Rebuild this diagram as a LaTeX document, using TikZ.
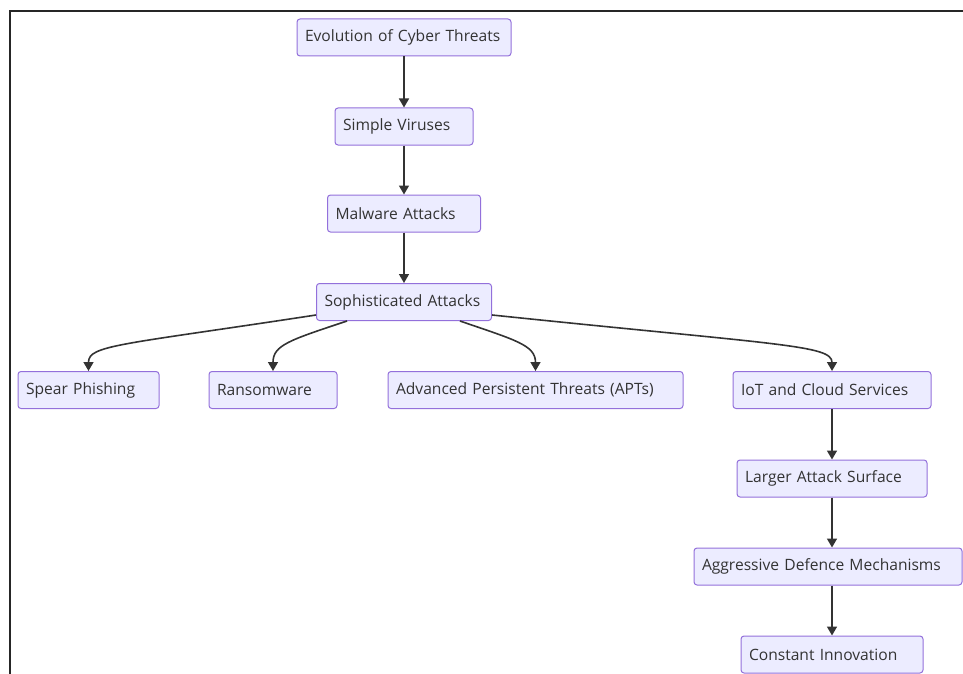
\documentclass[tikz,border=0pt]{standalone}
\usepackage{fontspec}
\setmainfont{Open Sans}
\usetikzlibrary{arrows.meta}
\definecolor{boxfill}{HTML}{ECECFF}
\definecolor{boxline}{HTML}{9370DB}
\definecolor{ink}{HTML}{333333}
\tikzset{
  box/.style={draw=boxline, fill=boxfill, line width=1pt, rounded corners=3pt,
    minimum height=37pt, inner xsep=8pt, inner ysep=0pt, align=left,
    font=\fontsize{15.6}{18}\selectfont, text=ink},
  conn/.style={draw=ink, line width=1.6pt, -{Triangle[width=10pt,length=9pt]}},
  frame/.style={draw=black!85, line width=1.8pt}
}
\newcommand{\bx}[5]{\node[box, text width=#4pt-16pt] (#1) at (#2,#3) {\mbox{#5}};}
\begin{document}
\begin{tikzpicture}[x=1pt,y=-1pt]
\useasboundingbox (0,0) rectangle (963,674);
\draw[frame] (10,674) -- (10,11) -- (963,11);

\bx{evo}{404}{37.5}{214}{Evolution of Cyber Threats}
\bx{sv}{404}{126.5}{138}{Simple Viruses}
\bx{ma}{404}{213.5}{153}{Malware Attacks}
\bx{soph}{404}{302}{175}{Sophisticated Attacks}
\bx{sp}{88.5}{390}{141}{Spear Phishing}
\bx{ra}{273}{390}{128}{Ransomware}
\bx{apt}{535.5}{390}{295}{Advanced Persistent Threats (APTs)}
\bx{iot}{832}{390}{198}{IoT and Cloud Services}
\bx{las}{832}{478.5}{190}{Larger Attack Surface}
\bx{agg}{828}{566.5}{268}{Aggressive Defence Mechanisms}
\bx{ci}{832}{654.5}{182}{Constant Innovation}

\draw[conn] (evo) -- (sv);
\draw[conn] (sv) -- (ma);
\draw[conn] (ma) -- (soph);
\draw[conn] ([yshift=6pt]soph.south west) .. controls (120,345) and (88.5,345) .. (sp.north);
\draw[conn] ([xshift=31pt]soph.south west) .. controls (290,340) and (273,345) .. (ra.north);
\draw[conn] ([xshift=-32pt]soph.south east) .. controls (515,340) and (535.5,345) .. (apt.north);
\draw[conn] ([yshift=6pt]soph.south east) .. controls (780,345) and (832,345) .. (iot.north);
\draw[conn] (iot) -- (las);
\draw[conn] (las.south) -- (agg.north -| las.south);
\draw[conn] (agg.south -| ci.north) -- (ci.north);
\end{tikzpicture}
\end{document}
